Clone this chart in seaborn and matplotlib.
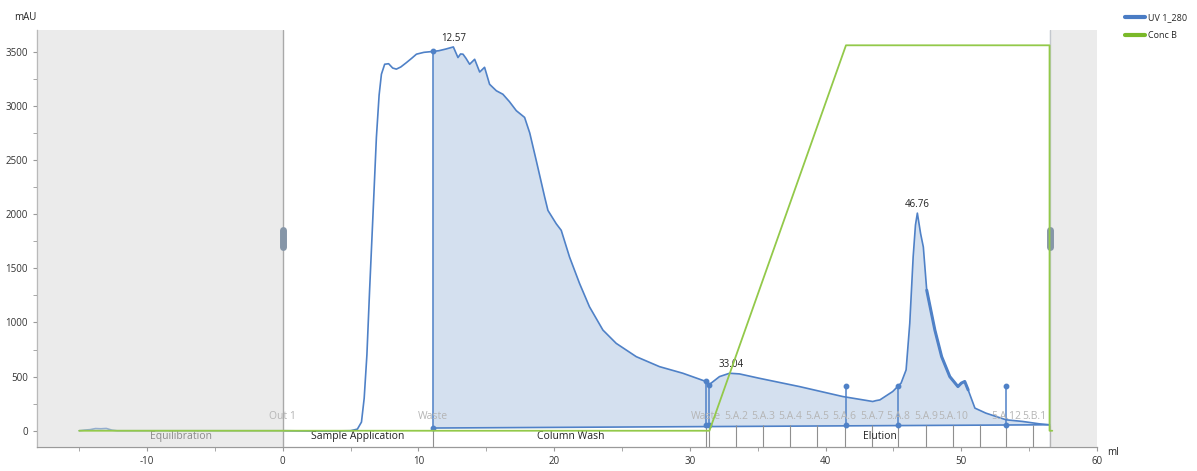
import numpy as np
import pandas as pd
import matplotlib.pyplot as plt
from matplotlib.lines import Line2D
import seaborn as sns

# UV 1_280 trace (ml, mAU)
uv_ml = [-15.0, -14.6, -14.2, -13.8, -13.4, -13.0, -12.6, -12.2, -5.0, 0.0, 3.0, 5.0,
         5.5, 5.8, 6.0, 6.2, 6.4, 6.63, 6.9, 7.1, 7.27, 7.51, 7.8, 8.1, 8.37, 8.7,
         9.11, 9.5, 9.85, 10.4, 11.05, 11.5, 12.0, 12.57, 12.91, 13.1, 13.28, 13.5,
         13.77, 14.14, 14.51, 14.87, 15.24, 15.74, 16.22, 16.7, 17.21, 17.82, 18.2,
         18.68, 19.3, 19.54, 20.15, 20.52, 21.13, 21.87, 22.6, 23.59, 24.57, 26.05,
         27.76, 29.48, 31.07, 31.2, 31.4, 32.18, 32.92, 33.65, 35.1, 38.07, 41.26,
         43.0, 43.47, 43.7, 44.0, 44.94, 45.56, 45.93, 46.2, 46.45, 46.62, 46.76,
         47.0, 47.2, 47.45, 47.7, 48.05, 48.55, 49.15, 49.75, 50.0, 50.25, 50.5,
         51.0, 51.8, 53.3, 54.5, 55.74, 56.5]
uv_mau = [0, 6, 10, 20, 18, 21, 6, 0, 0, 0, -3, 0,
          15, 80, 300, 700, 1300, 1943, 2710, 3100, 3293, 3385, 3390, 3350, 3340, 3360,
          3400, 3440, 3478, 3495, 3503, 3510, 3525, 3545, 3447, 3480, 3478, 3440,
          3385, 3431, 3313, 3357, 3200, 3140, 3108, 3040, 2956, 2894, 2750,
          2495, 2158, 2035, 1912, 1851, 1605, 1360, 1145, 930, 807, 684,
          592, 531, 460, 470, 424, 500, 531, 525, 485, 408, 316,
          280, 270, 278, 285, 362, 440, 562, 992, 1606, 1900, 2010,
          1820, 1697, 1298, 1145, 930, 684, 500, 408, 440, 455, 378,
          209, 163, 101, 86, 64, 55]

# Conc B (%)
concb_ml = [-15.0, 31.44, 41.5, 56.5, 56.5, 56.7]
concb_pct = [0, 0, 100, 100, 0, 0]

# integration baseline under the main peaks
base_ml = [11.05, 56.5]
base_mau = [25, 55]

# run phases
phase_names = ["Equilibration", "Sample Application", "Column Wash", "Elution"]
phase_edges = [-15.0, 0.0, 11.05, 31.44, 56.5]

# outlet / fraction labels
outlet_labels = ["Out 1", "Waste"]
outlet_ml = [0.0, 11.05]
frac_labels = ["Waste", "5.A.2", "5.A.3", "5.A.4", "5.A.5", "5.A.6", "5.A.7",
               "5.A.8", "5.A.9", "5.A.10", "5.A.12", "5.B.1"]
frac_ml = [31.15, 33.4, 35.4, 37.4, 39.4, 41.4, 43.4, 45.36, 47.4, 49.4, 53.3, 55.4]
frac_ticks_ml = [31.15, 31.44, 33.4, 35.4, 37.4, 39.4, 41.4, 43.4, 45.36, 47.4,
                 49.4, 51.4, 53.3, 55.3, 56.5]

# event markers (stem tops)
stem_ml = [11.05, 31.15, 31.44, 41.5, 45.36, 53.3]
stem_top = [3503, 455, 424, 414, 414, 414]

# peak labels
peak_ml = [12.57, 33.04, 46.76]
peak_mau = [3545, 531, 2010]

uv = pd.DataFrame({"ml": uv_ml, "mAU": uv_mau})
conc = pd.DataFrame({"ml": concb_ml, "pct": concb_pct})

UV_BLUE = "#4f81c7"
FILL = "#d4e0ef"
GREEN = "#93c94a"
YMIN, YMAX = -150, 3700
B_SCALE = 35.6  # 100 %B sits at ~3560 mAU on the chart

sns.set_style("white")
plt.rcParams["font.family"] = ["Open Sans", "DejaVu Sans"]
plt.rcParams["axes.unicode_minus"] = False

fig = plt.figure(figsize=(11.97, 4.71), dpi=100)
ax = fig.add_axes([0.031, 0.051, 0.8855, 0.885])

# shaded area under the curve from the Column Wash on
mask = (uv["ml"] >= base_ml[0]) & (uv["ml"] <= base_ml[1])
poly_x = list(uv.loc[mask, "ml"]) + base_ml[::-1]
poly_y = list(uv.loc[mask, "mAU"]) + base_mau[::-1]
ax.fill(poly_x, poly_y, color=FILL, lw=0, zorder=1)
ax.plot(base_ml, base_mau, color=UV_BLUE, lw=1.2, zorder=2)

sns.lineplot(data=uv, x="ml", y="mAU", ax=ax, color=UV_BLUE, lw=1.2,
             sort=False, estimator=None, zorder=2)
noisy = uv[(uv["ml"] >= 47.45) & (uv["ml"] <= 50.6)]
ax.plot(noisy["ml"], noisy["mAU"], color=UV_BLUE, lw=2.2, zorder=2,
        solid_capstyle="round")

# Conc B on its own hidden scale
ax2 = ax.twinx()
sns.lineplot(data=conc, x="ml", y="pct", ax=ax2, color=GREEN, lw=1.3,
             sort=False, estimator=None, zorder=2)
ax2.set_ylim(YMIN / B_SCALE, YMAX / B_SCALE)
ax2.set_axis_off()

# fraction ticks and event stems
ax.vlines(frac_ticks_ml, YMIN, 50, color="#8f8f8f", lw=0.8, zorder=2)
ax.vlines(stem_ml, base_mau[0], stem_top, color=UV_BLUE, lw=1.1, zorder=3)
ax.plot(stem_ml, stem_top, "o", color=UV_BLUE, ms=3.2, zorder=3)
ax.plot(stem_ml, [base_mau[0]] + [50] * (len(stem_ml) - 1), "o", color=UV_BLUE,
        ms=3.2, zorder=3)
ax.vlines(phase_edges[2], YMIN, base_mau[0], color="#8f8f8f", lw=0.8, zorder=2)

# grey (excluded) regions, drawn over the trace so it looks faded there
ax.axvspan(-18.2, 0, color="#d9d9d9", alpha=0.5, lw=0, zorder=4)
ax.axvspan(56.5, 60, color="#d9d9d9", alpha=0.5, lw=0, zorder=4)
ax.axvline(0, color="#a9a9a9", lw=1.0, zorder=5)
ax.axvline(56.5, color="#b0b8c4", lw=1.0, zorder=1)
for hx in (0, 56.5):
    ax.plot([hx, hx], [1700, 1850], color="#8696a8", lw=5,
            solid_capstyle="round", zorder=6)

# labels
for i, name in enumerate(phase_names):
    mid = (phase_edges[i] + phase_edges[i + 1]) / 2
    ax.text(mid, -55, name, ha="center", va="center", fontsize=7.5,
            color="#8a8a8a" if i == 0 else "#222222", zorder=6)
for lab, x in zip(outlet_labels, outlet_ml):
    ax.text(x, 130, lab, ha="center", va="center", fontsize=7.5, color="#b5b5b5", zorder=6)
for lab, x in zip(frac_labels, frac_ml):
    ax.text(x, 130, lab, ha="center", va="center", fontsize=7.5, color="#b5b5b5", zorder=6)
for x, y in zip(peak_ml, peak_mau):
    ax.text(x, y + 30, f"{x:.2f}", ha="center", va="bottom", fontsize=7,
            color="#222222", zorder=6)

ax.set_xlim(-18.1, 60)
ax.set_ylim(YMIN, YMAX)
ax.set_xticks(range(-10, 61, 10))
ax.set_xticks(range(-15, 61, 5), minor=True)
ax.set_yticks(range(0, 3501, 500))
ax.set_yticks(range(0, 3701, 250), minor=True)
ax.set_xlabel("")
ax.set_ylabel("")
for side in ("top", "right"):
    ax.spines[side].set_visible(False)
for side in ("left", "bottom"):
    ax.spines[side].set_color("#9a9a9a")
    ax.spines[side].set_linewidth(0.9)
ax.tick_params(which="both", direction="out", color="#9a9a9a", labelsize=7,
               labelcolor="#333333", bottom=True, left=True, length=3)

fig.text(0.012, 0.962, "mAU", fontsize=7, color="#222222", va="center")
fig.text(0.925, 0.04, "ml", fontsize=7, color="#222222", va="center")

handles = [Line2D([], [], color="#4a7cc4", lw=3), Line2D([], [], color="#7ab929", lw=3)]
fig.legend(handles, ["UV 1_280", "Conc B"], loc="upper left",
           bbox_to_anchor=(0.933, 0.99), frameon=False, fontsize=6.5,
           handlelength=2.2, handletextpad=0.4, labelspacing=1.0)

plt.savefig("out.png", dpi=100)
